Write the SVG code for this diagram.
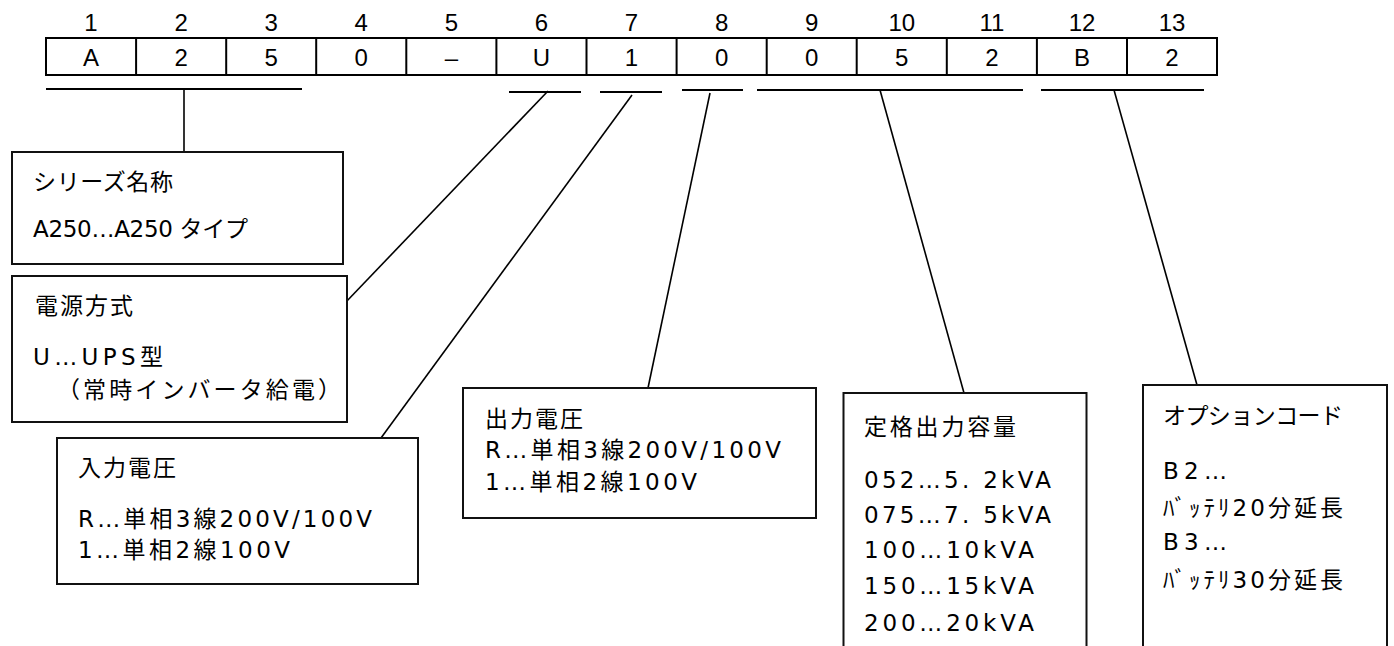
<svg xmlns="http://www.w3.org/2000/svg" width="1394" height="646" viewBox="0 0 1394 646">
<style>
.bg{fill:#fff}
.tbl{fill:none;stroke:#000;stroke-width:2}
.box{fill:#fff;stroke:#111;stroke-width:2}
.ln{stroke:#000;stroke-width:1.6;fill:none}
.ul{stroke:#000;stroke-width:1.8;fill:none}
.num{font-family:"Liberation Sans",Arial,sans-serif;font-size:24px;fill:#000;text-anchor:middle}
.t{font-family:"DejaVu Sans","Noto Sans CJK JP",sans-serif;font-size:23px;fill:#000}
.j{font-family:"Noto Sans CJK JP",sans-serif;font-size:23px;fill:#000}
</style>
<rect class="bg" x="0" y="0" width="1394" height="646"/>
<g id="code-table">
<rect class="tbl" x="46" y="38" width="1171" height="37"/>
<path class="tbl" d="M136.1 38V75M226.2 38V75M316.2 38V75M406.3 38V75M496.4 38V75M586.5 38V75M676.6 38V75M766.7 38V75M856.7 38V75M946.8 38V75M1036.9 38V75M1127 38V75"/>
<g class="num">
<text x="91" y="31">1</text><text x="181.1" y="31">2</text><text x="271.2" y="31">3</text><text x="361.3" y="31">4</text><text x="451.4" y="31">5</text><text x="541.5" y="31">6</text><text x="631.5" y="31">7</text><text x="721.6" y="31">8</text><text x="811.7" y="31">9</text><text x="901.8" y="31">10</text><text x="991.9" y="31">11</text><text x="1082" y="31">12</text><text x="1172" y="31">13</text>
<text x="91" y="66">A</text><text x="181.1" y="66">2</text><text x="271.2" y="66">5</text><text x="361.3" y="66">0</text><text x="451.4" y="66">–</text><text x="541.5" y="66">U</text><text x="631.5" y="66">1</text><text x="721.6" y="66">0</text><text x="811.7" y="66">0</text><text x="901.8" y="66">5</text><text x="991.9" y="66">2</text><text x="1082" y="66">B</text><text x="1172" y="66">2</text>
</g>
</g>
<g id="connectors">
<path class="ul" d="M46 89H302M509 92H581M600 92H662M682 90H743M757 90H1023M1041 90H1204"/>
<path class="ln" d="M184 89V152"/>
<path class="ln" d="M548 91L345 303"/>
<path class="ln" d="M632 95L381 438"/>
<path class="ln" d="M710 93L648 388"/>
<path class="ln" d="M880 90L964 393"/>
<path class="ln" d="M1114 90L1197 385"/>
</g>
<g id="series">
<rect class="box" x="12" y="152" width="331" height="112"/>
<text class="j" x="33" y="190" textLength="140" lengthAdjust="spacing">シリーズ名称</text>
<text class="t" x="33" y="237" textLength="215" lengthAdjust="spacing">A250…A250 タイプ</text>
</g>
<g id="power-method">
<rect class="box" x="12" y="276" width="335" height="146"/>
<text class="j" x="35" y="314" textLength="98" lengthAdjust="spacing">電源方式</text>
<text class="t" x="33" y="365" textLength="130" lengthAdjust="spacing">U…UPS型</text>
<text class="j" x="57" y="398" textLength="284" lengthAdjust="spacing">（常時インバータ給電）</text>
</g>
<g id="input-voltage">
<rect class="box" x="57" y="438" width="361" height="146"/>
<text class="j" x="78" y="476" textLength="98" lengthAdjust="spacing">入力電圧</text>
<text class="t" x="78" y="527" textLength="294" lengthAdjust="spacing">R…単相3線200V/100V</text>
<text class="t" x="78" y="558" textLength="212" lengthAdjust="spacing">1…単相2線100V</text>
</g>
<g id="output-voltage">
<rect class="box" x="463" y="388" width="353" height="130"/>
<text class="j" x="485" y="427" textLength="98" lengthAdjust="spacing">出力電圧</text>
<text class="t" x="485" y="458" textLength="296" lengthAdjust="spacing">R…単相3線200V/100V</text>
<text class="t" x="485" y="490" textLength="212" lengthAdjust="spacing">1…単相2線100V</text>
</g>
<g id="capacity">
<rect class="box" x="843.5" y="393" width="243" height="300"/>
<text class="j" x="864" y="435" textLength="152" lengthAdjust="spacing">定格出力容量</text>
<text class="t" x="864" y="488" textLength="187" lengthAdjust="spacing">052…5. 2kVA</text>
<text class="t" x="864" y="523" textLength="187" lengthAdjust="spacing">075…7. 5kVA</text>
<text class="t" x="864" y="558" textLength="170" lengthAdjust="spacing">100…10kVA</text>
<text class="t" x="864" y="594" textLength="170" lengthAdjust="spacing">150…15kVA</text>
<text class="t" x="864" y="631" textLength="170" lengthAdjust="spacing">200…20kVA</text>
</g>
<g id="option">
<rect class="box" x="1143" y="385" width="244" height="300"/>
<text class="j" x="1163" y="424" textLength="180" lengthAdjust="spacing">オプションコード</text>
<text class="t" x="1163" y="479" textLength="64" lengthAdjust="spacing">B2…</text>
<text class="t" x="1163" y="516" textLength="180" lengthAdjust="spacing">ﾊﾞｯﾃﾘ20分延長</text>
<text class="t" x="1163" y="550" textLength="64" lengthAdjust="spacing">B3…</text>
<text class="t" x="1163" y="588" textLength="180" lengthAdjust="spacing">ﾊﾞｯﾃﾘ30分延長</text>
</g>
</svg>
